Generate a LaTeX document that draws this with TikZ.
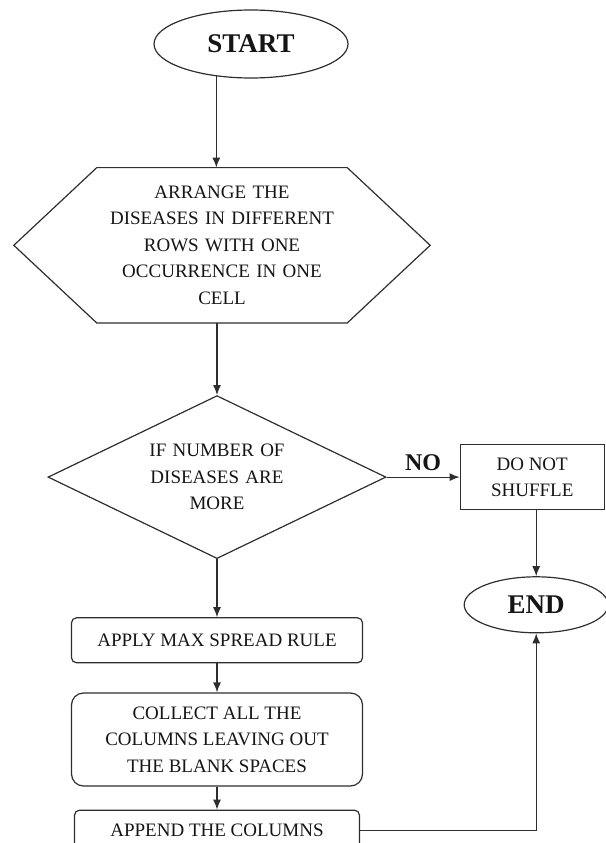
\documentclass[tikz,border=0pt]{standalone}
\usepackage{fontspec}
\setmainfont{Liberation Serif}
\usepackage{tikz}
\usetikzlibrary{shapes.geometric, positioning, arrows.meta}

\definecolor{linegray}{HTML}{2E2E2E}
\definecolor{inkgray}{HTML}{151515}

\begin{document}
\begin{tikzpicture}[
    every node/.style={text=inkgray, align=center, inner sep=0pt,
                       font=\fontsize{19}{26.5}\selectfont},
    terminal/.style={ellipse, draw=linegray, line width=1.2pt,
                     font=\fontsize{27}{30}\selectfont\bfseries},
    decision/.style={diamond, draw=linegray, line width=1.2pt, aspect=2.07},
    process/.style={rectangle, draw=linegray, line width=1.2pt, rounded corners=5pt},
    flow/.style={draw=linegray, line width=1.2pt, -{Latex[length=10pt,width=8pt]}}
    ]
    \useasboundingbox (0pt,0pt) rectangle (605pt,-843pt);

    % Add the steps
        \node[terminal,
              minimum width=194pt,
              minimum height=68pt] (start) at (251pt,-44pt) {START};
        \node[below=89pt of start,
              xshift=-29pt,
              minimum width=416pt,
              minimum height=155pt,
              text width=240pt] (arrange)
              {ARRANGE THE\\ DISEASES IN DIFFERENT\\ ROWS WITH ONE\\ OCCURRENCE IN ONE\\ CELL};
        \node[decision,
              below=72pt of arrange,
              xshift=-5pt,
              minimum width=338pt,
              minimum height=163pt,
              text width=150pt] (diamond)
              {IF NUMBER OF\\ DISEASES ARE\\ MORE};
        \node[rectangle,
              draw=linegray,
              line width=1.2pt,
              right=73pt of diamond,
              minimum width=144pt,
              minimum height=65pt] (noshuffle) {DO NOT\\ SHUFFLE};
        \node[terminal,
              below=66pt of noshuffle,
              xshift=4pt,
              minimum width=144pt,
              minimum height=56pt] (end) {END};
        \node[process,
              below=58pt of diamond,
              minimum width=291pt,
              minimum height=45pt] (apply) {APPLY MAX SPREAD RULE};
        \node[process,
              rounded corners=12pt,
              below=29pt of apply,
              minimum width=291pt,
              minimum height=93pt] (collect)
              {COLLECT ALL THE\\ COLUMNS LEAVING OUT\\ THE BLANK SPACES};
        \node[process,
              below=23pt of collect,
              minimum width=285pt,
              minimum height=40pt] (append) {APPEND THE COLUMNS};

    % hexagon outline round the arrange step
        \draw[linegray, line width=1.2pt]
            ([xshift=83pt]arrange.north west) -- ([xshift=-83pt]arrange.north east)
            -- (arrange.east) -- ([xshift=-83pt]arrange.south east)
            -- ([xshift=83pt]arrange.south west) -- (arrange.west) -- cycle;

        \draw[flow] (start.223) -- (start.223 |- arrange.north);
        \draw[flow] (arrange.south -| diamond.north) -- (diamond.north);
        \draw[flow] (diamond.east) -- node[above=6pt,
              font=\fontsize{24}{28}\selectfont\bfseries]{NO} (noshuffle.west);
        \draw[flow] (noshuffle.south -| end.north) -- (end.north);
        \draw[flow] (diamond.south) -- (apply.north);
        \draw[flow] (apply.south) -- (collect.north);
        \draw[flow] (collect.south) -- (append.north);
        \draw[flow] (append.east) -| (end.south);
\end{tikzpicture}
\end{document}
